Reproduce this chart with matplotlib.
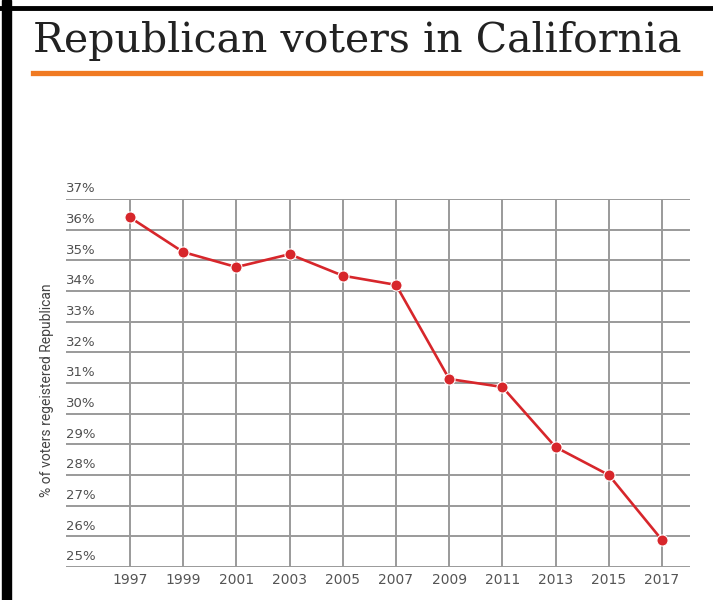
import matplotlib.pyplot as plt
from matplotlib.patches import Rectangle
from matplotlib.lines import Line2D

# registration share by year
years = [1997, 1999, 2001, 2003, 2005, 2007, 2009, 2011, 2013, 2015, 2017]
pct_republican = [36.4, 35.27, 34.78, 35.2, 34.5, 34.2, 31.13, 30.87, 28.91, 28.0, 25.88]
y_ticks = list(range(25, 38))

fig = plt.figure(figsize=(7.13, 6.0), dpi=100)
W, H = 713, 600

# page frame: heavy bar on the left, thin rule on top
fig.patches.append(Rectangle((2 / W, 0), 9 / W, 1, transform=fig.transFigure,
                             color="black", zorder=0))
fig.lines.append(Line2D([0, 1], [1 - 8 / H, 1 - 8 / H], transform=fig.transFigure,
                        color="black", lw=3.5))

fig.text(33 / W, 1 - 52 / H, "Republican voters in California", family="DejaVu Serif",
         fontsize=29.6, color="#222222", ha="left", va="baseline")
fig.lines.append(Line2D([33 / W, 700 / W], [1 - 73 / H, 1 - 73 / H], transform=fig.transFigure,
                        color="#F07A22", lw=3.8))

ax = fig.add_axes([66 / W, 1 - 567 / H, (690 - 66) / W, (567 - 199) / H])
ax.set_xlim(1994.594, 2018.053)
ax.set_ylim(25, 37)
for s in ax.spines.values():
    s.set_visible(False)

ax.set_xticks(years)
ax.set_xticklabels([str(y) for y in years], fontsize=10, color="#555555")
ax.tick_params(axis="x", length=0, pad=4)
ax.set_yticks(y_ticks)
ax.set_yticklabels([])
ax.tick_params(axis="y", length=0)
ax.grid(True, color="#9a9a9a", lw=1.4)
ax.set_axisbelow(True)

# y labels sit on top of their gridlines
for v in y_ticks:
    ax.text(0, v + 0.12, f"{v}%", transform=ax.get_yaxis_transform(), fontsize=9.5,
            color="#505050", ha="left", va="bottom")

ax.plot(years, pct_republican, color="#D7262B", lw=1.9, marker="o", markersize=8,
        markeredgecolor="white", markeredgewidth=0.8, zorder=3)

fig.text(47 / W, 1 - 390 / H, "% of voters regeistered Republican", rotation=90,
         fontsize=10, family="Roboto", color="#444444", ha="center", va="center",
         stretch="condensed")

fig.savefig("out.png", dpi=100)
